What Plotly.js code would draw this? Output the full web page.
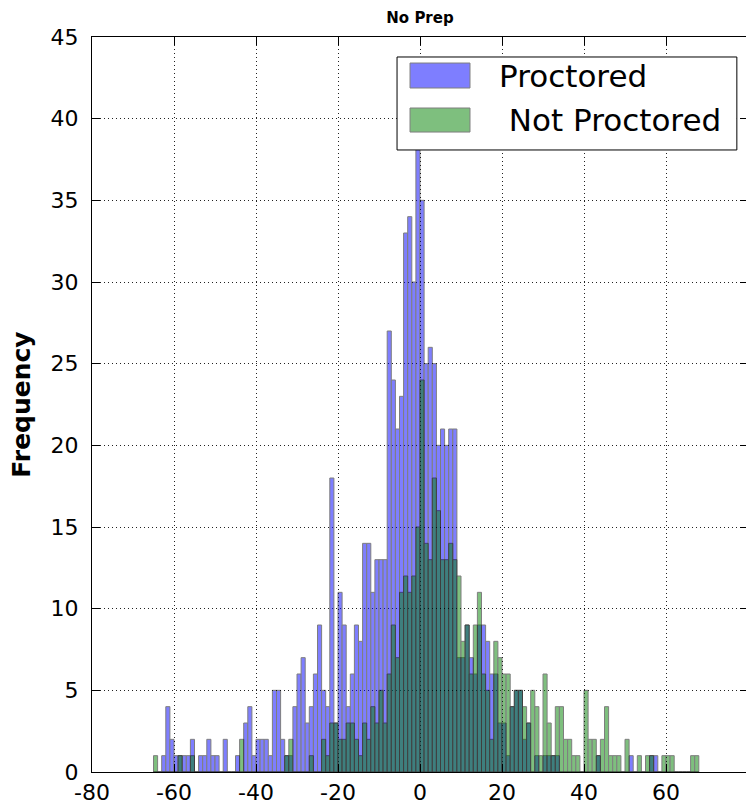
<!DOCTYPE html>
<html>
<head>
<meta charset="utf-8">
<script src="https://cdn.plot.ly/plotly-3.0.1.min.js"></script>
<style>
html,body{margin:0;padding:0;overflow:hidden;background:#fff;}
#chart{width:750px;height:807px;}
</style>
</head>
<body>
<div id="chart"></div>
<script>
// Histogram bins: unit-width bins, first bin's left edge
const binStart = -65;
const binWidth = 1;
// Counts per bin, from left edge -65 up to left edge 67
const proctored = [
  0,0,1,4,2,1,1,1,1,2,      // -65..-56
  0,1,1,2,1,1,0,2,0,0,      // -55..-46
  1,0,3,4,1,2,2,2,1,5,      // -45..-36
  5,2,1,1,4,6,7,3,4,6,      // -35..-26
  9,5,4,18,3,11,9,4,6,9,    // -25..-16
  8,14,14,11,13,13,13,27,24,21, // -15..-6
  23,33,34,30,40,35,25,26,25,20, // -5..4
  21,20,21,21,7,7,9,7,6,9,  // 5..14
  9,8,6,6,3,3,1,4,5,5,      // 15..24
  2,3,0,1,0,1,1,1,1,0,      // 25..34
  0,0,0,0,0,0,0,0,1,0,      // 35..44
  0,0,0,0,0,0,1,0,0,0,      // 45..54
  0,1,1,0,0,0,0,0,0,0,      // 55..64
  0,0,0                     // 65..67
];
const notProctored = [
  1,0,0,0,0,0,1,0,0,1,      // -65..-56
  0,0,0,0,0,0,0,0,0,0,      // -55..-46
  0,2,0,0,0,0,0,0,0,0,      // -45..-36
  0,0,1,2,0,0,0,0,1,0,      // -35..-26
  0,2,1,3,3,2,2,3,3,2,      // -25..-16
  1,3,2,4,3,5,3,6,9,7,      // -15..-6
  11,12,11,12,15,24,14,13,18,16, // -5..4
  13,13,14,13,12,8,9,6,9,11, // 5..14
  6,5,2,8,7,6,6,4,5,5,      // 15..24
  4,3,5,4,1,6,3,1,4,4,      // 25..34
  2,2,1,1,0,5,2,2,1,2,      // 35..44
  4,1,1,1,0,2,0,0,1,0,      // 45..54
  1,1,0,0,1,1,1,0,0,0,      // 55..64
  0,1,1                     // 65..67
];
const seriesNames = ["Proctored", " Not Proctored"];
const seriesColors = ["rgb(0,0,255)", "rgb(0,128,0)"];
const xTicks = [-80,-60,-40,-20,0,20,40,60];
const yTicks = [0,5,10,15,20,25,30,35,40,45];

const centers = proctored.map((_, i) => binStart + binWidth * (i + 0.5));

const common = {
  type: 'bar',
  x: centers,
  width: binWidth,
  opacity: 0.5,
  hoverinfo: 'skip',
  showlegend: false
};
const traces = [
  Object.assign({}, common, {
    y: proctored, name: seriesNames[0],
    marker: {color: seriesColors[0], line: {color: 'black', width: 1}}
  }),
  Object.assign({}, common, {
    y: notProctored, name: seriesNames[1],
    marker: {color: seriesColors[1], line: {color: 'black', width: 1}}
  })
];

// Legend box (matplotlib-style, drawn over the bars) in paper coordinates
const legendBox = {x0: 0.465, x1: 0.983, y0: 0.8463, y1: 0.9728};
const patchX = [0.4848, 0.5762];
const rowY = [[0.9306, 0.9646], [0.8707, 0.9034]];
const shapes = [
  {type: 'rect', xref: 'paper', yref: 'paper', layer: 'above',
   x0: legendBox.x0, x1: legendBox.x1, y0: legendBox.y0, y1: legendBox.y1,
   fillcolor: '#fff', line: {color: '#000', width: 1}}
];
const annotations = [];
seriesNames.forEach((n, i) => {
  shapes.push({type: 'rect', xref: 'paper', yref: 'paper', layer: 'above',
    x0: patchX[0], x1: patchX[1], y0: rowY[i][0], y1: rowY[i][1],
    fillcolor: seriesColors[i], opacity: 0.5, line: {color: '#000', width: 1}});
  annotations.push({xref: 'paper', yref: 'paper', x: 0.6174, y: (rowY[i][0] + rowY[i][1]) / 2,
    xanchor: 'left', yanchor: 'middle', showarrow: false,
    text: n.replace(/^ /, '&nbsp;'),
    font: {family: 'DejaVu Sans', size: 31, color: '#000'}});
});

const xFont = {family: 'DejaVu Sans', size: 22, color: '#000'};
const yFont = {family: 'DejaVu Sans', size: 22, color: '#000'};
const gridDash = '1px,3px';
const layout = {
  width: 750, height: 807,
  margin: {l: 92, r: 2, t: 37, b: 35, pad: 0},
  paper_bgcolor: '#fff', plot_bgcolor: '#fff',
  barmode: 'overlay',
  bargap: 0,
  title: {text: '<b>No Prep</b>', font: {family: 'DejaVu Sans', size: 15, color: '#000'},
          xref: 'paper', x: 0.5, xanchor: 'center', yref: 'container', y: 0.978, yanchor: 'middle'},
  xaxis: {
    range: [-80, 80], tickvals: xTicks, ticktext: xTicks.map(String),
    ticks: 'inside', ticklen: 8, tickcolor: '#000', tickwidth: 1,
    showline: true, linecolor: '#000', linewidth: 1, mirror: 'allticks',
    showgrid: true, gridcolor: '#222', griddash: gridDash, gridwidth: 1,
    zeroline: false, tickfont: xFont, fixedrange: true, ticklabelstandoff: 1
  },
  yaxis: {
    range: [0, 45], tickvals: yTicks, ticktext: yTicks.map(String),
    ticks: 'inside', ticklen: 8, tickcolor: '#000', tickwidth: 1,
    showline: true, linecolor: '#000', linewidth: 1, mirror: 'allticks',
    showgrid: true, gridcolor: '#222', griddash: gridDash, gridwidth: 1,
    zeroline: false, tickfont: yFont, fixedrange: true, ticklabelstandoff: 8,
    title: {text: '<b>Frequency</b>', font: {family: 'DejaVu Sans', size: 25, color: '#000'}, standoff: 12}
  },
  shapes: shapes,
  annotations: annotations,
  showlegend: false
};
Plotly.newPlot('chart', traces, layout, {staticPlot: true, displayModeBar: false});
</script>
</body>
</html>
